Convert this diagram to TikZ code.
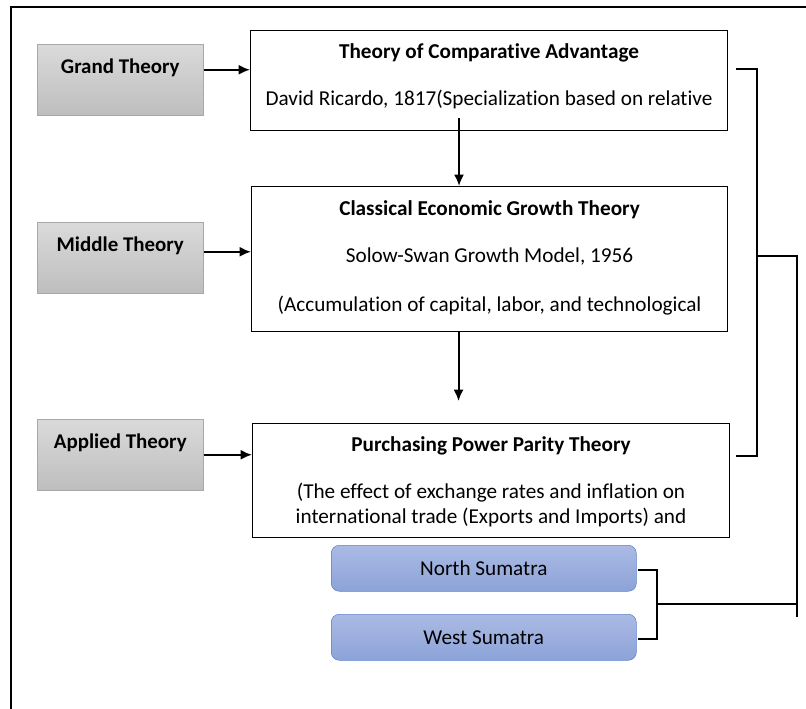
\documentclass[tikz,border=0pt]{standalone}
\usepackage{fontspec}
\setmainfont{Carlito}[Ligatures={NoCommon}]
\usepackage{xcolor}
\usetikzlibrary{arrows.meta, positioning}

\definecolor{graytop}{HTML}{DADADA}
\definecolor{graybot}{HTML}{BEBEBE}
\definecolor{grayedge}{HTML}{A8A8A8}
\definecolor{bluetop}{HTML}{ABBAE4}
\definecolor{bluebot}{HTML}{8CA3D8}
\definecolor{blueedge}{HTML}{5B83CC}

\begin{document}
\begin{tikzpicture}[
        x=0.75pt, y=-0.75pt,                 % pixel grid, y downwards
        font=\fontsize{15.9}{18.75}\selectfont,
        levelbox/.style={
            rectangle,
            draw=grayedge,
            top color=graytop,
            bottom color=graybot,
            minimum width=124.5pt,
            inner sep=0pt,
            text height=21.75pt,
            text depth=31.5pt,
            font=\fontsize{15.7}{18.75}\selectfont\bfseries,
            anchor=north west
        },
        theorybox/.style={
            rectangle,
            draw=black,
            line width=0.8pt,
            minimum width=357.75pt,
            anchor=north west
        },
        boxtext/.style={
            inner sep=0pt,
            align=center
        },
        regionbox/.style={
            rectangle,
            rounded corners=6pt,
            draw=blueedge,
            top color=bluetop,
            bottom color=bluebot,
            minimum width=228.75pt,
            minimum height=34.5pt,
            anchor=north west
        },
        line/.style={
            draw,
            -{Latex[length=8.5pt, width=7.5pt]},
            line width=1.5pt
        },
        bracket/.style={
            draw,
            line width=1.5pt
        },
        frame/.style={
            draw,
            line width=2.2pt
        }
    ]
    \useasboundingbox (0,0) rectangle (806,709);
    \draw[frame] (806,7) -- (11,7) -- (11,709);

    % --- LEVELS ---
    \node [levelbox] (grand) at (37,44) {Grand Theory};
    \node [levelbox] (middle) at (37,222) {Middle Theory};
    \node [levelbox] (applied) at (37,419) {Applied Theory};

    % --- THEORIES ---
    \node [theorybox, minimum height=75pt] (comp) at (250,30) {};
    \node [boxtext, below=10pt of comp.north] (comptext) {
        \textbf{Theory of Comparative Advantage} \\[16.5pt]
        David Ricardo, 1817(Specialization based on relative
    };

    \node [theorybox, minimum width=357pt, minimum height=108.75pt] (growth) at (251,186) {};
    \node [boxtext, below=10.5pt of growth.north] (growthtext) {
        \textbf{Classical Economic Growth Theory} \\[17pt]
        Solow-Swan Growth Model, 1956 \\[18pt]
        (Accumulation of capital, labor, and technological
    };

    \node [theorybox, minimum height=85.5pt] (ppp) at (252,423) {};
    \node [boxtext, below=10pt of ppp.north] (ppptext) {
        \textbf{Purchasing Power Parity Theory} \\[16.5pt]
        (The effect of exchange rates and inflation on \\
        international trade (Exports and Imports) and
    };

    % --- REGIONS ---
    \node [regionbox] (nsumatra) at (331,545) {North Sumatra};
    \node [regionbox] (wsumatra) at (331,614) {West Sumatra};

    % --- LINKS ---
    \path [line] ([shift={(0,-10)}]grand.east) -- ([shift={(0,-10)}]grand.east -| comp.west);
    \path [line] ([shift={(0,-6)}]middle.east) -- ([shift={(0,-6)}]middle.east -| growth.west);
    \path [line] (applied.east) -- (applied.east -| ppp.west);

    \path [line] ([shift={(-30,-13)}]comp.south) -- ([shift={(-30,0)}]comp.south |- growth.north);
    \path [line] ([shift={(-31,0)}]growth.south) -- ++(0,69);

    % --- BRACKETS ---
    \coordinate (brtop) at ([shift={(8,-12)}]comp.east);
    \coordinate (brbot) at ([shift={(6,-25)}]ppp.east);
    \coordinate (brmid) at (756,256);
    \coordinate (brlow) at (657,604);
    \coordinate (stem) at (797,617);
    \path [bracket] (brtop) -- ++(21,0) |- (brbot);
    \path [bracket] (brmid) -| (stem);
    \path [bracket] ([shift={(1,2)}]nsumatra.east) -| (brlow) |- ([shift={(1,2)}]wsumatra.east);
    \path [bracket] (brlow) -- (brlow -| stem);
\end{tikzpicture}
\end{document}
